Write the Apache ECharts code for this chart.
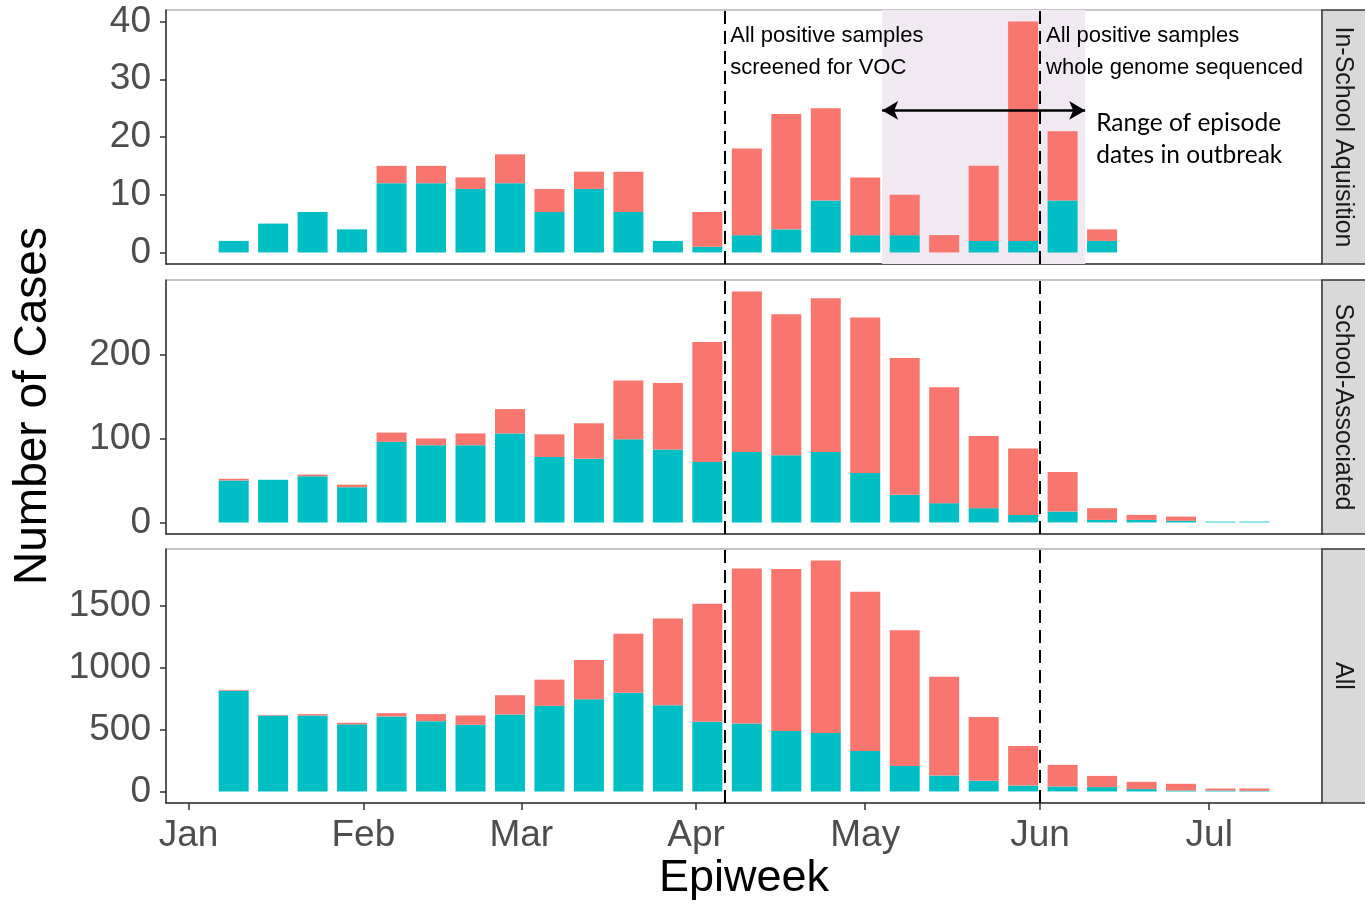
<!DOCTYPE html>
<html>
<head>
<meta charset="utf-8">
<title>Weekly cases by epiweek</title>
<script src="https://cdn.jsdelivr.net/npm/echarts@6/dist/echarts.min.js"></script>
<style>
  html, body { margin: 0; padding: 0; background: #ffffff; }
  #chart { width: 1365px; height: 908px; }
</style>
</head>
<body>
<div id="chart"></div>
<script>
// Epiweek dates (bar centres)
const weekDates = [
  '2021-01-09', '2021-01-16', '2021-01-23', '2021-01-30',
  '2021-02-06', '2021-02-13', '2021-02-20', '2021-02-27',
  '2021-03-06', '2021-03-13', '2021-03-20', '2021-03-27',
  '2021-04-03', '2021-04-10', '2021-04-17', '2021-04-24',
  '2021-05-01', '2021-05-08', '2021-05-15', '2021-05-22',
  '2021-05-29', '2021-06-05', '2021-06-12', '2021-06-19',
  '2021-06-26', '2021-07-03', '2021-07-09'
];

const panelNames = ['In-School Aquisition', 'School-Associated', 'All'];

// In-school acquisition (weeks 1-23)
const inSchoolNonVOC = [2, 5, 7, 4, 12, 12, 11, 12, 7, 11, 7, 2, 1, 3, 4, 9, 3, 3, 0, 2, 2, 9, 2];
const inSchoolVOC    = [0, 0, 0, 0, 3, 3, 2, 5, 4, 3, 7, 0, 6, 15, 20, 16, 10, 7, 3, 13, 38, 12, 2];

// School-associated
const schoolAssocNonVOC = [50, 51, 55, 42, 96, 92, 92, 106, 78, 76, 99, 87, 72, 84, 80, 84, 59, 33, 23, 17, 9, 13, 3, 3, 2, 1, 1];
const schoolAssocVOC    = [2, 0, 2, 3, 11, 8, 14, 29, 27, 42, 70, 79, 143, 191, 168, 183, 185, 163, 138, 86, 79, 47, 14, 6, 5, 0, 0];

// All cases
const allNonVOC = [816, 615, 615, 543, 607, 569, 540, 623, 693, 747, 798, 698, 564, 551, 489, 473, 328, 207, 129, 86, 48, 40, 35, 19, 8, 8, 5];
const allVOC    = [6, 5, 11, 13, 27, 57, 75, 156, 212, 317, 478, 701, 956, 1254, 1311, 1396, 1289, 1098, 800, 516, 320, 175, 91, 59, 54, 16, 19];

// Axis ticks
const monthStarts = ['2021-01-01', '2021-02-01', '2021-03-01', '2021-04-01', '2021-05-01', '2021-06-01', '2021-07-01'];
const monthLabels = ['Jan', 'Feb', 'Mar', 'Apr', 'May', 'Jun', 'Jul'];
const yTickValues = [[0, 10, 20, 30, 40], [0, 100, 200], [0, 500, 1000, 1500]];

// Reference dates and annotations
const vocScreeningDate = '2021-04-06';
const wgsDate = '2021-06-01';
const outbreakRange = ['2021-05-04', '2021-06-09'];
const outbreakArrowLevel = 24.6;
const vocNote = 'All positive samples\nscreened for VOC';
const wgsNote = 'All positive samples\nwhole genome sequenced';
const outbreakNote = 'Range of episode\ndates in outbreak';

// x positions are days since 1 Jan 2021
const dayOf = s => (Date.parse(s + 'T00:00:00Z') - Date.UTC(2021, 0, 1)) / 864e5;
const monthDays = monthStarts.map(dayOf);
const xMin = -4, xMax = 201;

const panels = [
  { other: inSchoolNonVOC, voc: inSchoolVOC },
  { other: schoolAssocNonVOC, voc: schoolAssocVOC },
  { other: allNonVOC, voc: allVOC }
];

const FONT = "'Liberation Sans', Arial, sans-serif";
const TEAL = '#00BFC4';
const SALMON = '#F8766D';
const DARK = '#333333';

const gridLeft = 166, gridWidth = 1156, gridHeight = 254;
const gridTops = [10, 280, 549];

const grids = [], xAxes = [], yAxes = [], series = [];

panels.forEach((p, i) => {
  const totals = p.other.map((v, k) => v + p.voc[k]);
  const yMaxData = Math.max(...totals);
  const pad = yMaxData * 0.05;

  grids.push({
    left: gridLeft, top: gridTops[i], width: gridWidth, height: gridHeight,
    show: true, borderColor: '#8a8a8a', borderWidth: 1, backgroundColor: 'transparent'
  });

  const isBottom = i === panels.length - 1;
  xAxes.push({
    type: 'value', gridIndex: i, min: xMin, max: xMax,
    axisLine: { show: true, onZero: false, lineStyle: { color: DARK, width: 1.5 } },
    axisTick: {
      show: isBottom, length: 7, customValues: monthDays,
      lineStyle: { color: DARK, width: 1.5 }
    },
    axisLabel: {
      show: isBottom, customValues: monthDays, margin: 14,
      fontSize: 37, color: '#4D4D4D', fontFamily: FONT,
      formatter: v => monthLabels[monthDays.indexOf(v)]
    },
    splitLine: { show: false }
  });

  yAxes.push({
    type: 'value', gridIndex: i, min: -pad, max: yMaxData + pad,
    axisLine: { show: true, onZero: false, lineStyle: { color: DARK, width: 1.5 } },
    axisTick: { show: true, length: 6, customValues: yTickValues[i], lineStyle: { color: DARK, width: 1.5 } },
    axisLabel: {
      customValues: yTickValues[i], margin: 15,
      fontSize: 37, color: '#4D4D4D', fontFamily: FONT,
      formatter: v => String(v)
    },
    splitLine: { show: false }
  });

  // rows are [count, day]; the count column comes first so it is the one stacked
  const n = p.other.length;
  series.push({
    name: 'Non-VOC', type: 'bar', xAxisIndex: i, yAxisIndex: i, stack: 'cases' + i,
    encode: { x: 1, y: 0 },
    barWidth: 30, itemStyle: { color: TEAL }, silent: true,
    data: p.other.map((v, k) => [v, dayOf(weekDates[k])])
  });
  series.push({
    name: 'VOC', type: 'bar', xAxisIndex: i, yAxisIndex: i, stack: 'cases' + i,
    encode: { x: 1, y: 0 },
    barWidth: 30, itemStyle: { color: SALMON }, silent: true,
    data: p.voc.slice(0, n).map((v, k) => [v, dayOf(weekDates[k])])
  });

  // dashed reference lines
  series.push({
    type: 'line', xAxisIndex: i, yAxisIndex: i, data: [], silent: true,
    markLine: {
      silent: true, symbol: 'none', label: { show: false }, z: 5,
      lineStyle: { color: '#000', width: 2, type: [13, 7] },
      data: [{ xAxis: dayOf(vocScreeningDate) }, { xAxis: dayOf(wgsDate) }]
    }
  });

  if (i === 0) {
    // outbreak window and its double-headed arrow
    series.push({
      type: 'line', xAxisIndex: 0, yAxisIndex: 0, data: [], silent: true,
      markArea: {
        silent: true, z: 1,
        itemStyle: { color: '#F0E9F1' },
        data: [[{ xAxis: dayOf(outbreakRange[0]) }, { xAxis: dayOf(outbreakRange[1]) }]]
      }
    });
    series.push({
      type: 'line', xAxisIndex: 0, yAxisIndex: 0, data: [], silent: true,
      markLine: {
        silent: true, z: 6, symbol: ['arrow', 'arrow'], symbolSize: [14, 16],
        label: { show: false },
        lineStyle: { color: '#000', width: 2.5, type: 'solid' },
        data: [[{ coord: [dayOf(outbreakRange[0]), outbreakArrowLevel] },
                { coord: [dayOf(outbreakRange[1]), outbreakArrowLevel] }]]
      }
    });
  }
});

const chart = echarts.init(document.getElementById('chart'), null, { renderer: 'canvas' });
chart.setOption({
  animation: false,
  backgroundColor: '#ffffff',
  grid: grids,
  xAxis: xAxes,
  yAxis: yAxes,
  series: series
});

// Facet strips, axis titles and notes
const graphics = [];
gridTops.forEach((top, i) => {
  graphics.push({
    type: 'rect', silent: true, z: 10,
    shape: { x: gridLeft + gridWidth, y: top, width: 60, height: gridHeight },
    style: { fill: '#D9D9D9', stroke: DARK, lineWidth: 1.5 }
  });
  graphics.push({
    type: 'text', silent: true, z: 11,
    x: gridLeft + gridWidth + 21, y: top + gridHeight / 2, rotation: -Math.PI / 2,
    style: {
      text: panelNames[i], fill: '#1A1A1A', font: '25px ' + FONT,
      textAlign: 'center', textVerticalAlign: 'middle'
    }
  });
});

graphics.push({
  type: 'text', silent: true, x: 33, y: 406, rotation: Math.PI / 2,
  style: { text: 'Number of Cases', fill: '#000', font: '46px ' + FONT, textAlign: 'center', textVerticalAlign: 'middle' }
});
graphics.push({
  type: 'text', silent: true, x: 744, y: 879,
  style: { text: 'Epiweek', fill: '#000', font: '45px ' + FONT, textAlign: 'center', textVerticalAlign: 'middle' }
});

const vocX = chart.convertToPixel({ xAxisIndex: 0 }, dayOf(vocScreeningDate));
const wgsX = chart.convertToPixel({ xAxisIndex: 0 }, dayOf(wgsDate));
const arrowEndX = chart.convertToPixel({ xAxisIndex: 0 }, dayOf(outbreakRange[1]));
const arrowY = chart.convertToPixel({ yAxisIndex: 0 }, outbreakArrowLevel);

graphics.push({
  type: 'text', silent: true, z: 12, x: vocX + 6, y: 20,
  style: { text: vocNote, fill: '#000', font: '22px ' + FONT, lineHeight: 32, textVerticalAlign: 'top' }
});
graphics.push({
  type: 'text', silent: true, z: 12, x: wgsX + 6, y: 20,
  style: { text: wgsNote, fill: '#000', font: '22px ' + FONT, lineHeight: 32, textVerticalAlign: 'top' }
});
graphics.push({
  type: 'text', silent: true, z: 12, x: arrowEndX + 11, y: arrowY - 3,
  style: { text: outbreakNote, fill: '#000', font: "24.5px Lato, 'Open Sans', sans-serif", lineHeight: 32, textVerticalAlign: 'top' }
});

chart.setOption({ graphic: graphics });
</script>
</body>
</html>
